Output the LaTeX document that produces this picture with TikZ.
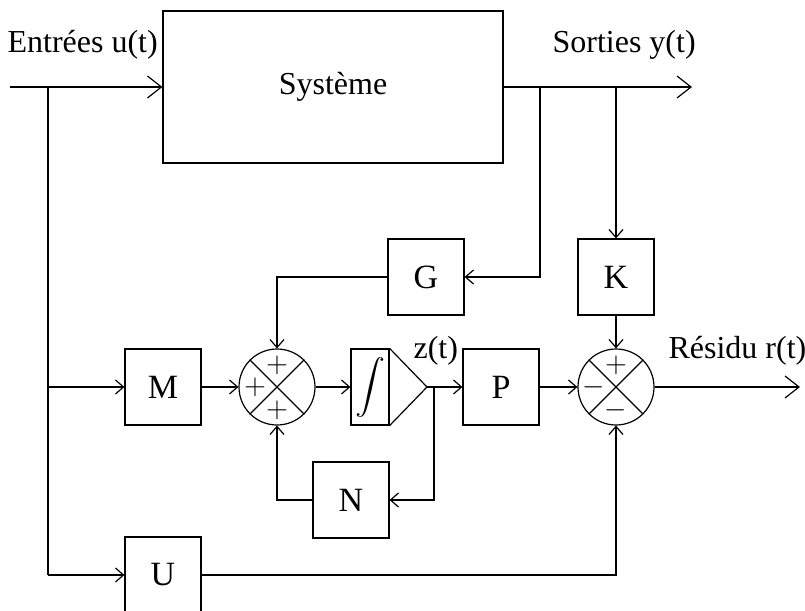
\documentclass[tikz,border=0pt]{standalone}
\usepackage{fontspec}
\setmainfont{Liberation Serif}
\usetikzlibrary{arrows.meta,calc}

\tikzset{
    blk/.style={draw, rectangle, minimum width=38pt, minimum height=38pt, inner sep=0pt, font=\fontsize{17}{18}\selectfont},
    sum/.style={draw, circle, minimum size=38pt, inner sep=0pt},
    sgn/.style={inner sep=0pt, font=\fontsize{15}{15}\selectfont},
    lbl/.style={anchor=base west, inner sep=0pt},
    >={Straight Barb[length=4pt, width=7pt]},
    big/.style={-{Straight Barb[length=7pt, width=11pt]}}
}

\begin{document}
\begin{tikzpicture}[x=0.5pt, y=-0.5pt, line width=0.6pt, font=\fontsize{16}{18}\selectfont]
    \useasboundingbox (0,0) rectangle (805,611);

    % Systeme
    \node[draw, rectangle, minimum width=170pt, minimum height=76pt] (system) at (333,87) {Système};

    % Blocs
    \node[blk] (G) at (426,277) {G};
    \node[blk] (K) at (616,277) {K};
    \node[blk] (M) at (163,387) {M};
    \node[blk, minimum width=19pt] (intg) at (370,387) {\scalebox{1.5}[1.35]{$\displaystyle\int$}};
    \node[blk] (P) at (501,387) {P};
    \node[blk] (N) at (351,500) {N};
    \node[blk] (U) at (163,575) {U};

    % Sommateurs
    \node[sum] (s1) at (277,387) {};
    \node[sum] (s2) at (616,387) {};
    \draw (s1.north west) -- (s1.south east);
    \draw (s1.north east) -- (s1.south west);
    \draw (s2.north west) -- (s2.south east);
    \draw (s2.north east) -- (s2.south west);
    \node[sgn] (s1t) at (277,365) {$+$};
    \node[sgn] (s1l) at (255,387) {$+$};
    \node[sgn] (s1b) at (277,410) {$+$};
    \node[sgn] (s2t) at (616,365) {$+$};
    \node[sgn] (s2l) at (594,387) {$-$};
    \node[sgn] (s2b) at (616,410) {$-$};

    % Gain
    \coordinate (ztip) at (427,387);
    \draw (intg.north east) -- (ztip) -- (intg.south east);

    % Points
    \coordinate (uin) at (10,87);
    \coordinate (ub) at (48,87);
    \coordinate (yb) at (540,87);
    \coordinate (yout) at (692,87);
    \coordinate (zb) at (434,387);
    \coordinate (rout) at (800,387);

    % Textes
    \node[lbl] (tin) at (7,52) {Entrées u(t)};
    \node[lbl] (tout) at (552,52) {Sorties y(t)};
    \node[lbl] (tz) at (413,358) {z(t)};
    \node[lbl] (tr) at (668,358) {Résidu r(t)};

    % Liaisons
    \draw[big] (uin) -- (system.west);
    \draw[big] (system.east) -- (yout);
    \draw (ub) -- (ub |- U);
    \draw[->] (ub |- M) -- (M);
    \draw[->] (ub |- U) -- (U);
    \draw[->] (yb) |- (G);
    \draw[->] (K |- system.east) -- (K);
    \draw[->] (G) -| (s1);
    \draw[->] (M) -- (s1);
    \draw[->] (s1) -- (intg);
    \draw[->] (ztip) -- (P);
    \draw[->] (P) -- (s2);
    \draw[->] (K) -- (s2);
    \draw[big] (s2) -- (rout);
    \draw[->] (zb) |- (N);
    \draw[->] (N) -| (s1);
    \draw[->] (U) -| (s2);
\end{tikzpicture}
\end{document}
